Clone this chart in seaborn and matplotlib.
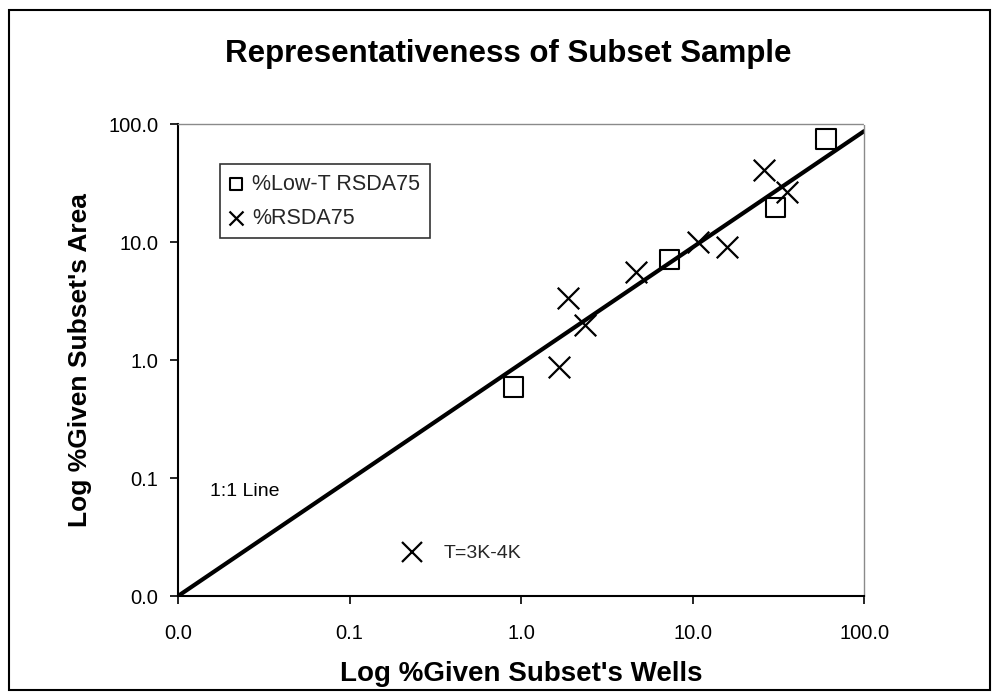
import matplotlib
matplotlib.use("Agg")
import matplotlib.pyplot as plt
from matplotlib.lines import Line2D
from matplotlib.patches import Rectangle
from matplotlib.ticker import FixedLocator, FuncFormatter, NullLocator
import numpy as np
import pandas as pd
import seaborn as sns

# Subset sample values (% of wells vs % of area)
lowt_wells = [0.90, 7.3, 30.3, 60.0]
lowt_area = [0.59, 7.1, 19.6, 74.6]
rsda_wells = [1.67, 1.89, 2.36, 4.69, 10.7, 15.8, 26.2, 35.7]
rsda_area = [0.875, 3.33, 2.0, 5.61, 10.1, 9.15, 40.9, 26.6]
series_names = ["%Low-T RSDA75", "%RSDA75"]

# Reference line
line_x = [0.01, 100.0]
line_y = [0.01, 87.0]

tick_values = [0.01, 0.1, 1.0, 10.0, 100.0]

sns.set_theme(style="white")
plt.rcParams["font.family"] = ["Liberation Sans", "DejaVu Sans"]

df = pd.DataFrame({
    "wells": lowt_wells + rsda_wells,
    "area": lowt_area + rsda_area,
    "series": [series_names[0]] * len(lowt_wells) + [series_names[1]] * len(rsda_wells),
})

fig = plt.figure(figsize=(9.98, 6.98), dpi=100)
ax = fig.add_axes([0.1784, 0.1461, 0.6874, 0.6762])

ax.set_xscale("log")
ax.set_yscale("log")
ax.set_xlim(0.01, 100)
ax.set_ylim(0.01, 100)

sns.lineplot(x=line_x, y=line_y, ax=ax, color="black", linewidth=3.0,
             legend=False, zorder=2)

sq = df[df["series"] == series_names[0]]
xx = df[df["series"] == series_names[1]]
sns.scatterplot(data=sq, x="wells", y="area", ax=ax, marker="s", s=190,
                facecolor="none", edgecolor="black", linewidth=1.5,
                label=series_names[0], zorder=3)
sns.scatterplot(data=xx, x="wells", y="area", ax=ax, marker="x", s=240,
                color="black", linewidth=1.6, label=series_names[1], zorder=3)

# Axis styling
for side in ("left", "bottom"):
    ax.spines[side].set_color("black")
    ax.spines[side].set_linewidth(1.5)
for side in ("top", "right"):
    ax.spines[side].set_color("#8a8a8a")
    ax.spines[side].set_linewidth(1.0)
    ax.spines[side].set_linestyle((0, (1, 1)))

for axis in (ax.xaxis, ax.yaxis):
    axis.set_major_locator(FixedLocator(tick_values))
    axis.set_minor_locator(NullLocator())
    axis.set_major_formatter(FuncFormatter(lambda v, p: f"{v:.1f}"))
ax.tick_params(axis="both", which="major", direction="out", length=6,
               width=1.2, color="black", labelsize=14.5, labelcolor="black",
               bottom=True, left=True, pad=8)
ax.tick_params(axis="x", pad=14)

ax.set_xlabel("Log %Given Subset's Wells", fontsize=20, fontweight="bold",
              labelpad=13, color="black")
ax.set_ylabel("Log %Given Subset's Area", fontsize=19, fontweight="bold",
              labelpad=12, color="black")
fig.text(0.5095, 0.923, "Representativeness of Subset Sample", fontsize=22.5,
         fontweight="bold", ha="center", va="center", color="black")

# Series legend
leg = ax.legend(loc="upper left", bbox_to_anchor=(0.061, 0.915), fontsize=15.5,
                frameon=True, fancybox=False, edgecolor="black",
                markerscale=0.65, handlelength=0.6, handletextpad=0.45,
                borderpad=0.45, labelspacing=0.6, borderaxespad=0)
leg.get_frame().set_linewidth(1.2)
ax.add_artist(leg)

# Temperature range key
key = ax.legend(handles=[Line2D([], [], marker="x", linestyle="none",
                                color="black", markersize=15, markeredgewidth=1.6)],
                labels=["T=3K-4K"], loc="center left",
                bbox_to_anchor=(0.316, 0.09), fontsize=14, frameon=False,
                handlelength=1.0, handletextpad=1.1, borderaxespad=0)
key.set_zorder(4)

ax.text(0.047, 0.222, "1:1 Line", transform=ax.transAxes, fontsize=14,
        ha="left", va="center", color="black")

# Chart border
fig.patches.append(Rectangle((0.0095, 0.012), 0.982, 0.974, transform=fig.transFigure,
                             fill=False, edgecolor="black", linewidth=1.5))

fig.savefig("out.png", dpi=100)
